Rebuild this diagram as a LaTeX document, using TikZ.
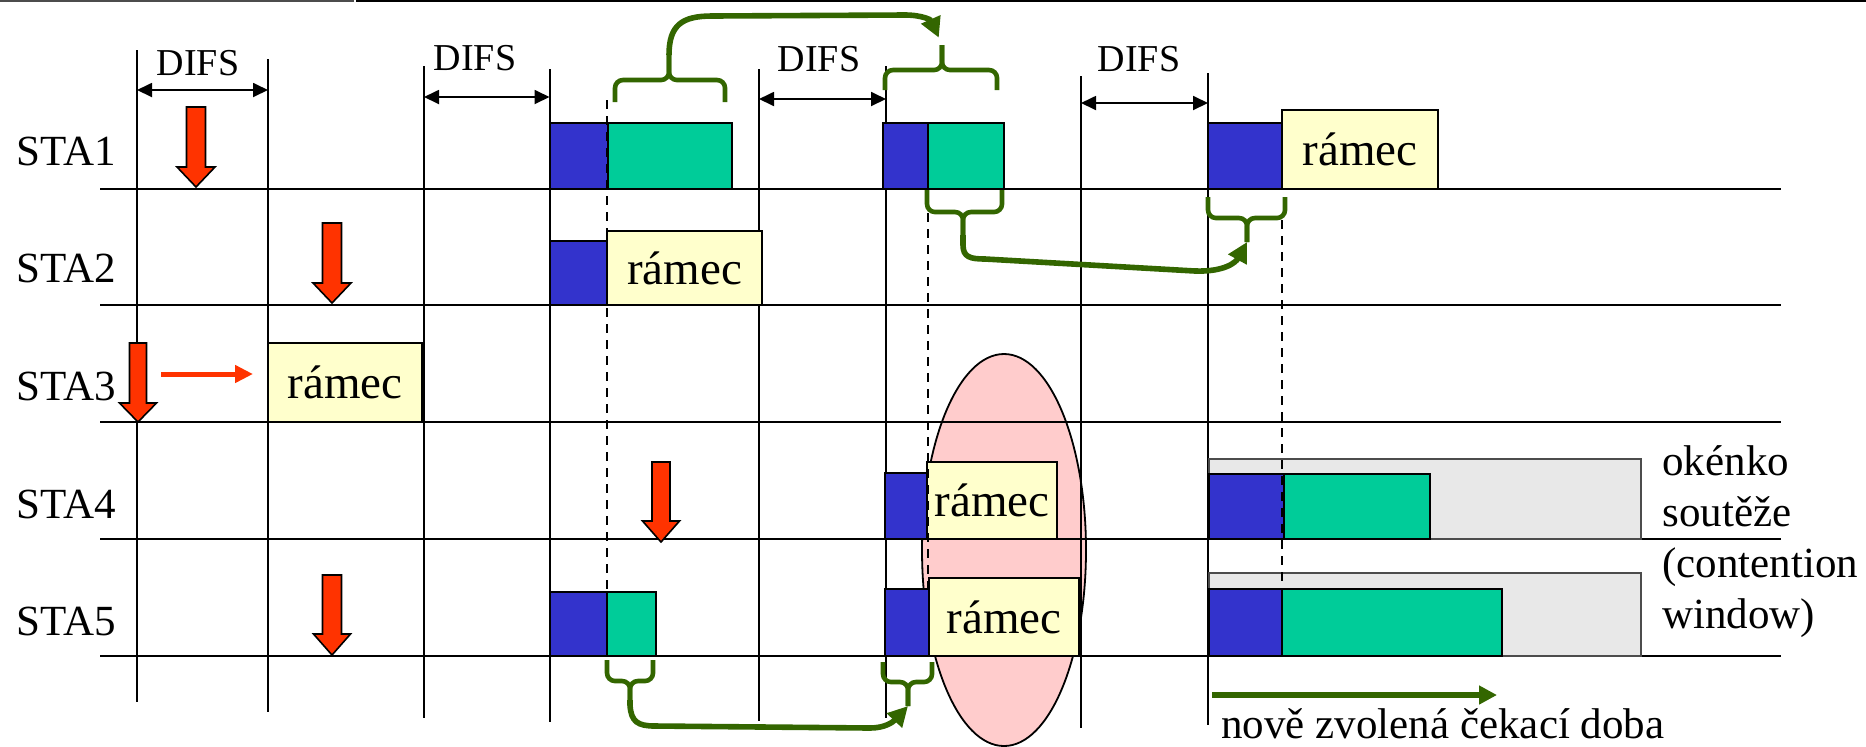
\documentclass[tikz,border=0pt]{standalone}
\usepackage{fontspec}
\setmainfont{Liberation Serif}
\usetikzlibrary{arrows.meta,fit}
\definecolor{cblue}{RGB}{51,51,204}
\definecolor{cgreen}{RGB}{0,204,153}
\definecolor{cyel}{RGB}{255,255,204}
\definecolor{cgray}{RGB}{232,232,232}
\definecolor{cred}{RGB}{255,51,0}
\definecolor{cdg}{RGB}{51,102,0}
\definecolor{cpink}{RGB}{255,204,204}
\newcommand\redarr[6]{\draw[redar] ({#1-#5},#2) -- ({#1+#5},#2) -- ({#1+#5},#3) -- ({#1+#6},#3) -- (#1,#4) -- ({#1-#6},#3) -- ({#1-#5},#3) -- cycle;}
\newcommand\brc[7]{\draw[brace] (#1,#3) -- (#1,#4) -- (#5,#4) -- (#5,#6) coordinate (#7); \draw[brace] (#2,#3) -- (#2,#4) -- (#5,#4) -- (#5,#6);}
\begin{document}
\begin{tikzpicture}[x=0.5pt,y=-0.5pt,
 axis/.style={line width=1.3pt},
 grid/.style={line width=1pt},
 dashln/.style={dash pattern=on 4.5pt off 3.5pt, line width=0.9pt},
 blk/.style={inner sep=0pt, outer sep=0pt, line width=1pt, draw=black},
 bblk/.style={blk, fill=cblue},
 gblk/.style={blk, fill=cgreen},
 yblk/.style={blk, fill=cyel},
 wblk/.style={blk, fill=cgray, draw=black!70},
 rtext/.style={font=\fontsize{23.5}{28}\selectfont, inner sep=0pt},
 lbl/.style={font=\fontsize{21.5}{26}\selectfont, inner sep=0pt},
 difst/.style={font=\fontsize{19}{23}\selectfont, inner sep=0pt},
 difsarr/.style={line width=0.9pt, >={Triangle[length=7.5pt,width=7pt]}, <->},
 brace/.style={draw=cdg, line width=2.3pt, rounded corners=4pt},
 garr/.style={draw=cdg, line width=2.8pt, -{Triangle[length=10pt,width=10pt]}},
 redar/.style={fill=cred, draw=black, line width=0.8pt, line join=miter},
]
\useasboundingbox (0,0) rectangle (1866,746);
% top border
\draw[black!70, line width=1.2pt] (0,1) -- (354,1);
\draw[line width=0.9pt] (356,0.9) -- (1866,0.9);
% collision ellipse
\draw[fill=cpink, line width=0.9pt] (1004,550) ellipse [x radius=82, y radius=196];
% time axes
\foreach \y in {189,305,422,539,656} \draw[axis] (100,\y) -- (1781,\y);
% vertical lines
\foreach \x/\a/\b in {137/50/702, 268/59/712, 424/66/718, 549.5/69/722, 759/69/721, 886/66/718, 1081/76/728, 1208/73/725}
  \draw[grid] (\x,\a) -- (\x,\b);
% DIFS
\draw[difsarr] (137,90) -- (268,90);
\draw[difsarr] (424,97) -- (549.5,97);
\draw[difsarr] (759,99) -- (886,99);
\draw[difsarr] (1081,103) -- (1208,103);
\node[difst] (d1) at (198,63) {DIFS};
\node[difst] (d2) at (475,58) {DIFS};
\node[difst] (d3) at (819,59) {DIFS};
\node[difst] (d4) at (1139,59) {DIFS};
% STA1
\node[bblk, fit={(549.5,123) (608,189)}] (a1b) {};
\node[gblk, fit={(608,123) (732,189)}] (a1g) {};
\node[bblk, fit={(883,123) (928,189)}] (b1b) {};
\node[gblk, fit={(928,123) (1004,189)}] (b1g) {};
\node[bblk, fit={(1208,123) (1282,189)}] (c1b) {};
\node[yblk, fit={(1282,110) (1438,189)}, label={[rtext]center:rámec}] (c1r) {};
% STA2
\node[bblk, fit={(549.5,241) (607,305)}] (a2b) {};
\node[yblk, fit={(607,231) (762,305)}, label={[rtext]center:rámec}] (a2r) {};
% STA3
\node[yblk, fit={(268,343) (422,422)}, label={[rtext]center:rámec}] (s3r) {};
% STA4
\node[bblk, fit={(885,473) (927,539)}] (b4b) {};
\node[yblk, fit={(927,462) (1057,539)}, label={[rtext]center:rámec}] (b4r) {};
\node[wblk, fit={(1209,459) (1641,539)}] (w4) {};
\node[bblk, fit={(1209,474) (1284,539)}] (c4b) {};
\node[gblk, fit={(1284,474) (1430,539)}] (c4g) {};
% STA5
\node[bblk, fit={(549.5,592) (607,656)}] (a5b) {};
\node[gblk, fit={(607,592) (656,656)}] (a5g) {};
\node[bblk, fit={(885,589) (929,656)}] (b5b) {};
\node[yblk, fit={(929,578) (1079,656)}, label={[rtext]center:rámec}] (b5r) {};
\node[wblk, fit={(1209,573) (1641,656)}] (w5) {};
\node[bblk, fit={(1209,589) (1282,656)}] (c5b) {};
\node[gblk, fit={(1282,589) (1502,656)}] (c5g) {};
% dashed guides
\draw[dashln] (607,100) -- (607,590);
\draw[dashln] (928,213) -- (928,588);
\draw[dashln] (1282,220) -- (1282,590);
% red arrows
\redarr{196}{107}{167}{187}{9.5}{19}
\redarr{332}{223}{283}{303}{9.5}{19}
\redarr{138}{343}{403}{422}{8.5}{18.5}
\redarr{661}{462}{521}{542}{9}{18.5}
\redarr{332}{575}{634}{655}{9.5}{18.5}
\coordinate (rh1) at (161,374);
\coordinate (rh2) at (253,374);
\draw[cred, line width=2.5pt, -{Triangle[length=9pt,width=8.5pt]}] (rh1) -- (rh2);
% braces
\brc{615}{725}{102}{80}{669}{55}{t1}
\brc{885}{997}{90}{70}{942}{45}{t2}
\brc{927}{1002}{190}{212}{963}{235}{t3}
\brc{1208}{1285}{197}{218}{1247}{242}{t4}
\brc{607}{653}{660}{681}{630}{700}{t5}
\brc{883}{932}{662}{682}{908}{706}{t6}
% green curved arrows
\draw[garr, shorten >=4pt] (t1) .. controls (669,25) and (682,16) .. (712,16) -- (905,15) .. controls (922,15) and (931,20) .. (t2);
\draw[garr] (t3) -- (963,245) .. controls (963,257) and (970,259) .. (985,259) -- (1195,271) .. controls (1225,272) and (1236,262) .. (t4);
\draw[garr] (t5) -- (630,705) .. controls (631,722) and (638,726) .. (655,726) -- (870,728) .. controls (885,728) and (893,722) .. (t6);
% new backoff arrow
\coordinate (nb1) at (1212,695);
\coordinate (nb2) at (1497,695);
\draw[draw=cdg, line width=3pt, -{Triangle[length=9pt,width=9pt]}] (nb1) -- (nb2);
% labels
\node[lbl, anchor=west] (s1) at (16,151.5) {STA1};
\node[lbl, anchor=west] (s2) at (16,268) {STA2};
\node[lbl, anchor=west] (s3) at (16,386) {STA3};
\node[lbl, anchor=west] (s4) at (16,504) {STA4};
\node[lbl, anchor=west] (s5) at (16,621) {STA5};
\node[lbl, anchor=base west] (cw1) at (1662,475) {okénko};
\node[lbl, anchor=base west] (cw2) at (1662,526) {soutěže};
\node[lbl, anchor=base west] (cw3) at (1662,577) {(contention};
\node[lbl, anchor=base west] (cw4) at (1662,628) {window)};
\node[lbl, anchor=base west] (nw) at (1221,738) {nově zvolená čekací doba};
\end{tikzpicture}
\end{document}
